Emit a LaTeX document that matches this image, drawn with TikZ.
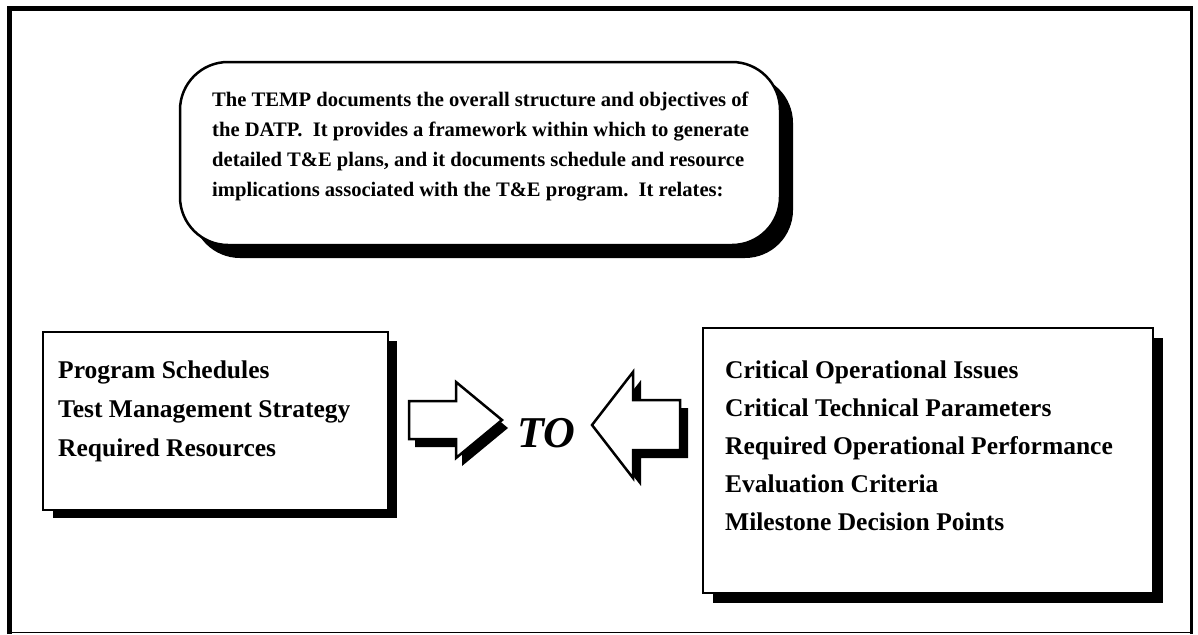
\documentclass[tikz,border=0pt]{standalone}
\usepackage{fontspec}
\setmainfont{Liberation Serif}
\begin{document}
\begin{tikzpicture}[x=1pt,y=-1pt,
  topline/.style={anchor=base west,inner sep=0pt,font=\fontsize{20.6}{30}\selectfont\bfseries},
  listline/.style={anchor=base west,inner sep=0pt,font=\fontsize{25.5}{38}\selectfont\bfseries},
  boxframe/.style={draw=black,line width=2.5pt,fill=white},
  shadowfill/.style={fill=black,draw=none},
  arrowshape/.style={draw=black,line width=2.5pt,fill=white,line join=miter}]
\useasboundingbox (0,0) rectangle (1198,634);
% outer frame
\draw[line width=4.5pt] (9.5,634) -- (9.5,8.5) -- (1193,8.5);
\draw[line width=3pt] (1191,8.5) -- (1191,634);
\draw[line width=1.5pt] (9.5,632.5) -- (1191,632.5);

% top rounded box with shadow
\fill[shadowfill,rounded corners=48pt] (192,75) rectangle (793,258);
\draw[boxframe,rounded corners=48pt] (180,62) rectangle (780,245);
\node[topline] (t1) at (212,106.7) {The TEMP documents the overall structure and objectives of};
\node[topline] (t2) at (212,136.7) {the DATP.\ \ It provides a framework within which to generate};
\node[topline] (t3) at (212,166.7) {detailed T\&E plans, and it documents schedule and resource};
\node[topline] (t4) at (212,196.7) {implications associated with the T\&E program.\ \ It relates:};

% left box
\fill[shadowfill] (53,341) rectangle (397,518);
\draw[boxframe] (43,332) rectangle (388,510);
\node[listline] (l1) at (58,378) {Program Schedules};
\node[listline] (l2) at (58,417) {Test Management Strategy};
\node[listline] (l3) at (58,456) {Required Resources};

% right box
\fill[shadowfill] (713,338) rectangle (1163,603);
\draw[boxframe] (703,328) rectangle (1153,593);
\node[listline] (r1) at (725,378) {Critical Operational Issues};
\node[listline] (r2) at (725,416) {Critical Technical Parameters};
\node[listline] (r3) at (725,454) {Required Operational Performance};
\node[listline] (r4) at (725,492) {Evaluation Criteria};
\node[listline] (r5) at (725,530) {Milestone Decision Points};

% right-pointing arrow
\fill[shadowfill] (415,409) -- (462,409) -- (462,390) -- (508,428) -- (462,466) -- (462,447) -- (415,447) -- cycle;
\draw[arrowshape] (409,401) -- (456,401) -- (456,382) -- (502,420) -- (456,458) -- (456,439) -- (409,439) -- cycle;

% TO
\node[inner sep=0pt,anchor=base,font=\fontsize{44}{50}\selectfont\bfseries\itshape] (to) at (546,447) {TO};

% left-pointing arrow
\fill[shadowfill] (600,433) -- (641,380) -- (641,408) -- (688,408) -- (688,458) -- (641,458) -- (641,486) -- cycle;
\draw[arrowshape] (592,425) -- (633,372) -- (633,400) -- (680,400) -- (680,450) -- (633,450) -- (633,478) -- cycle;
\end{tikzpicture}
\end{document}
